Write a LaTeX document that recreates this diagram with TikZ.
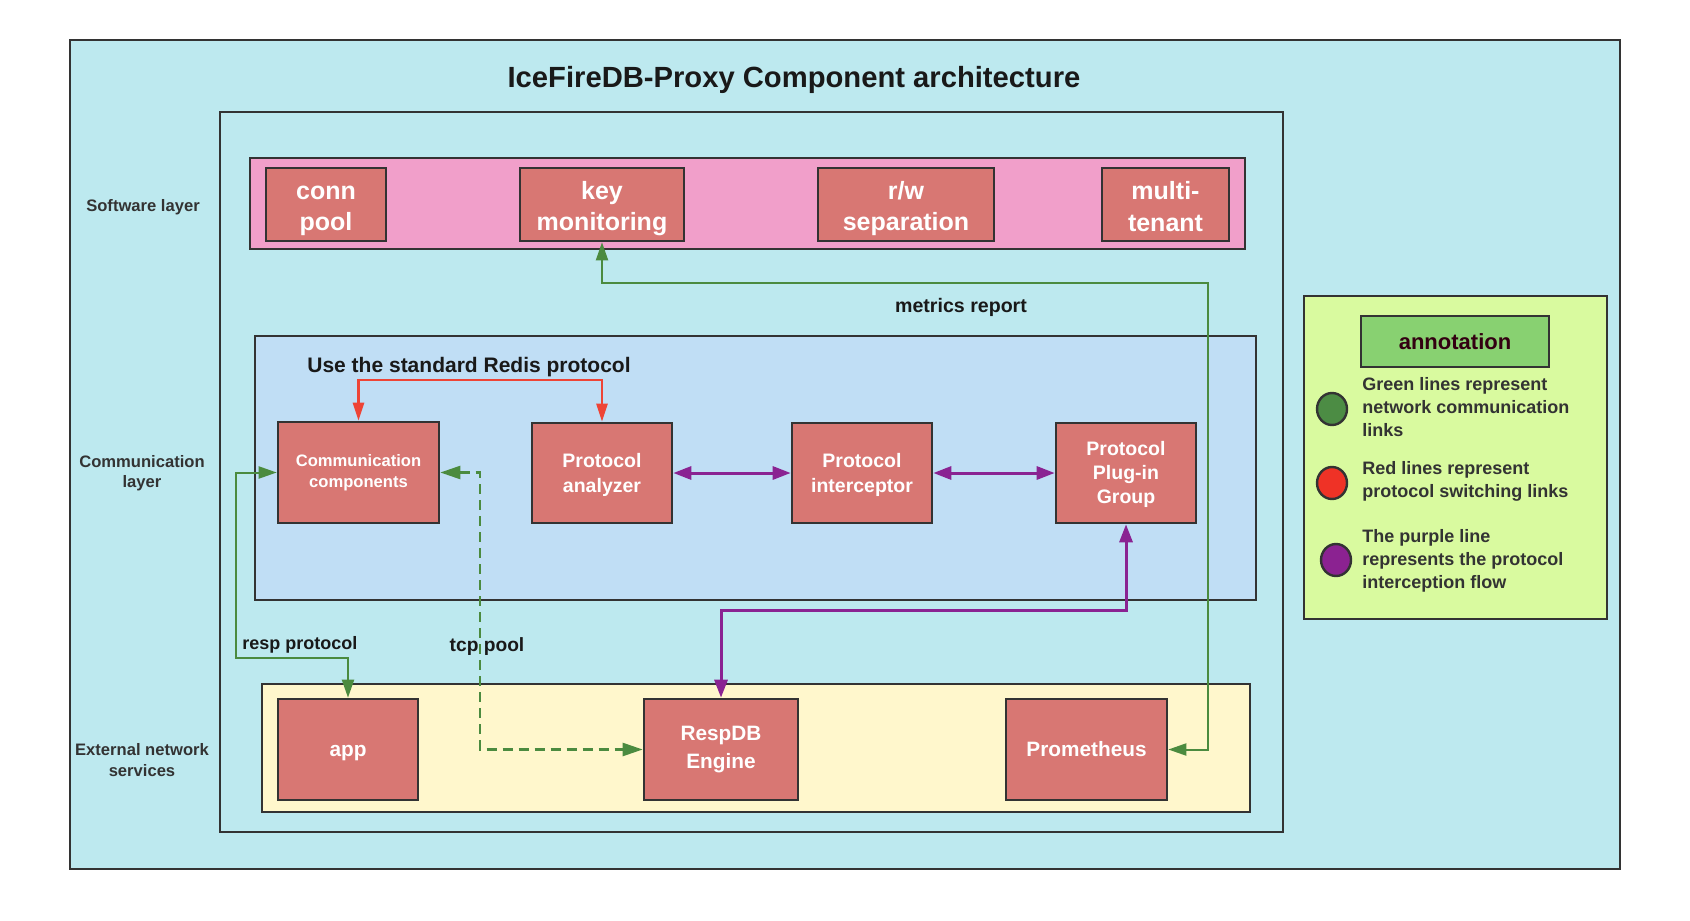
\documentclass[tikz,border=0pt]{standalone}
\usepackage{fontspec}
\setmainfont{Liberation Sans}
\usetikzlibrary{arrows.meta,shapes.geometric}
\definecolor{dk}{HTML}{333333}
\definecolor{bgcyan}{HTML}{BDE9EF}
\definecolor{pinkc}{HTML}{F19FCA}
\definecolor{boxred}{HTML}{D87773}
\definecolor{bluec}{HTML}{C0DEF5}
\definecolor{yellowc}{HTML}{FFF7CC}
\definecolor{legc}{HTML}{D9FA9F}
\definecolor{headc}{HTML}{88D171}
\definecolor{gline}{HTML}{4B8B3F}
\definecolor{rline}{HTML}{EE4436}
\definecolor{pline}{HTML}{8A2392}
\definecolor{gdot}{HTML}{4C8C44}
\definecolor{rdot}{HTML}{EF3226}
\definecolor{pdot}{HTML}{8B2291}
\begin{document}
\begin{tikzpicture}[x=0.5pt,y=-0.5pt,
  cont/.style={draw=dk,line width=1.2pt},
  comp/.style={draw=dk,fill=boxred,line width=1.3pt,text=white,align=center,inner sep=0pt},
  bigtxt/.style={font=\bfseries\fontsize{12.5}{15.8}\selectfont},
  midtxt/.style={font=\bfseries\fontsize{9.75}{12.6}\selectfont},
  bottxt/.style={font=\bfseries\fontsize{10.4}{13.8}\selectfont},
  lbl/.style={text=black!90,font=\bfseries\fontsize{9.8}{12}\selectfont,inner sep=0pt},
  layerlbl/.style={text=dk,font=\bfseries\fontsize{8.3}{10.2}\selectfont,align=center,inner sep=0pt},
  legtxt/.style={text=dk,font=\bfseries\fontsize{9}{11.5}\selectfont,align=left,anchor=west,inner sep=0pt},
  gconn/.style={draw=gline,line width=1pt,{Triangle[length=9pt,width=6pt]}-{Triangle[length=9pt,width=6pt]}},
  gdash/.style={draw=gline,line width=1.2pt,dash pattern=on 5pt off 3pt,{Triangle[length=10pt,width=6.5pt]}-{Triangle[length=10pt,width=6.5pt]}},
  rconn/.style={draw=rline,line width=1.2pt,{Triangle[length=9pt,width=5.5pt]}-{Triangle[length=9pt,width=5.5pt]}},
  pconn/.style={draw=pline,line width=1.5pt,{Triangle[length=9pt,width=6.5pt]}-{Triangle[length=9pt,width=6.5pt]}},
  legdot/.style={ellipse,draw=dk,line width=1.2pt,minimum width=15pt,minimum height=16pt,inner sep=0pt}
]
\useasboundingbox (0,0) rectangle (1690,920);
\fill[white] (0,0) rectangle (1690,920);

% containers
\draw[cont,fill=bgcyan] (70,40) rectangle (1620,869);
\draw[cont] (220,112) rectangle (1283,832);
\draw[cont,fill=pinkc] (250,158) rectangle (1245,249);
\draw[cont,fill=bluec] (255,336) rectangle (1256,600);
\draw[cont,fill=yellowc] (262,684) rectangle (1250,812);
\draw[cont,fill=legc] (1304,296) rectangle (1607,619);

% title and layer labels
\node[text=black!90,font=\bfseries\fontsize{14.6}{17}\selectfont,inner sep=0pt] (title) at (794,80) {IceFireDB-Proxy Component architecture};
\node[layerlbl] (l1) at (143,207) {Software layer};
\node[layerlbl] (l2) at (142,473) {Communication\\layer};
\node[layerlbl] (l3) at (142,760) {External network\\services};

% software layer
\node[comp,bigtxt,minimum width=60pt,minimum height=36.5pt,text depth=0pt] (conn) at (326,204.5) {};
\node[bigtxt,text=white,align=center,inner sep=0pt] (conntxt) at (326,211) {conn\\pool};
\node[comp,bigtxt,minimum width=82pt,minimum height=36.5pt] (keymon) at (602,204.5) {};
\node[bigtxt,text=white,align=center,inner sep=0pt] (keytxt) at (602,208.5) {key\\monitoring};
\node[comp,bigtxt,minimum width=88pt,minimum height=36.5pt] (rw) at (906,204.5) {};
\node[bigtxt,text=white,align=center,inner sep=0pt] (rwtxt) at (906,208.5) {r/w\\separation};
\node[comp,bigtxt,minimum width=63.5pt,minimum height=36.5pt] (multi) at (1165.5,204.5) {};
\node[bigtxt,text=white,align=center,inner sep=0pt] (multitxt) at (1165.5,206.5) {multi-\\tenant};

% communication layer
\node[comp,font=\bfseries\fontsize{8.3}{10.5}\selectfont,minimum width=80.5pt,minimum height=50.5pt] (comm) at (358.5,472.5) {Communication\\components};
\node[comp,midtxt,minimum width=70pt,minimum height=50pt] (ana) at (602,473) {};
\node[midtxt,text=white,align=center,inner sep=0pt] (anatxt) at (602,475) {Protocol\\analyzer};
\node[comp,midtxt,minimum width=70pt,minimum height=50pt] (intc) at (862,473) {};
\node[midtxt,text=white,align=center,inner sep=0pt] (intctxt) at (862,475) {Protocol\\interceptor};
\node[comp,font=\bfseries\fontsize{9.75}{12.2}\selectfont,minimum width=70pt,minimum height=50pt] (plug) at (1126,473) {};
\node[font=\bfseries\fontsize{9.75}{12.2}\selectfont,text=white,align=center,inner sep=0pt] (plugtxt) at (1126,474.5) {Protocol\\Plug-in\\Group};

% external services
\node[comp,bottxt,minimum width=70pt,minimum height=50.5pt] (app) at (348,749.5) {};
\node[bottxt,text=white,inner sep=0pt] (apptxt) at (348,753.5) {app};
\node[comp,bottxt,minimum width=77pt,minimum height=50.5pt] (resp) at (721,749.5) {RespDB\\Engine};
\node[comp,bottxt,minimum width=80.5pt,minimum height=50.5pt] (prom) at (1086.5,749.5) {Prometheus};

% connectors
\coordinate (mr) at (1208,283);
\draw[gconn] (prom.east) -| (mr) -| (keymon.south);
\coordinate (rp) at (236,658);
\draw[gconn] (comm.west) -| (rp) -| (app.north);
\coordinate (tp) at (480,749.5);
\draw[gdash] (comm.east) -| (tp) -- (resp.west);
\coordinate (rr) at (480,380);
\draw[rconn] (comm.north) |- (rr) -| (ana.north);
\draw[pconn] (ana.east) -- (intc.west);
\draw[pconn] (intc.east) -- (plug.west);
\coordinate (pp) at (900,610);
\draw[pconn] (plug.south) |- (pp) -| (resp.north);

% labels
\node[lbl] (mlbl) at (961,307.5) {metrics report};
\node[lbl,font=\bfseries\fontsize{10.5}{12}\selectfont,anchor=west] (redis) at (307,367.5) {Use the standard Redis protocol};
\node[lbl,font=\bfseries\fontsize{9}{11}\selectfont,anchor=west] (rlbl) at (242,644.5) {resp protocol};
\node[lbl,font=\bfseries\fontsize{9.6}{11}\selectfont] (tlbl) at (487,646.5) {tcp pool};

% legend
\node[draw=dk,fill=headc,line width=1.2pt,minimum width=94pt,minimum height=25.5pt,inner sep=0pt,text={rgb,255:red,51;green,0;blue,17},font=\bfseries\fontsize{11}{13}\selectfont] (ann) at (1455,341.5) {annotation};
\node[legdot,fill=gdot] (d1) at (1332,409) {};
\node[legdot,fill=rdot] (d2) at (1332,483) {};
\node[legdot,fill=pdot] (d3) at (1336,560) {};
\node[legtxt] (t1) at (1362,407) {Green lines represent\\network communication\\links};
\node[legtxt] (t2) at (1362,481) {Red lines represent\\protocol switching links};
\node[legtxt] (t3) at (1362,561) {The purple line\\represents the protocol\\interception flow};
\end{tikzpicture}
\end{document}
